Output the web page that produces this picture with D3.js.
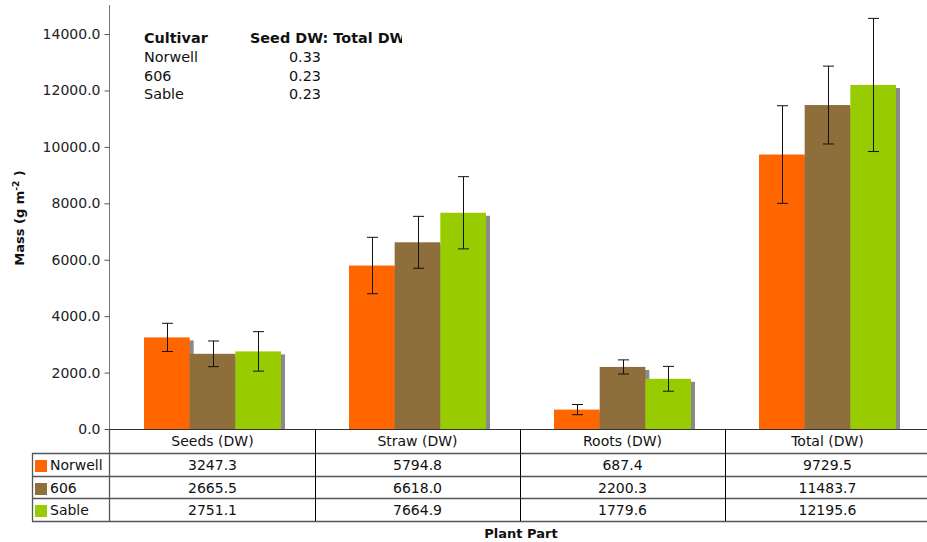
<!DOCTYPE html>
<html><head><meta charset="utf-8">
<script src="https://cdn.jsdelivr.net/npm/d3@7"></script>
<style>body{margin:0;background:#fff}svg{display:block;font-family:"DejaVu Sans",sans-serif}</style>
</head><body><svg id="c" width="927" height="542"></svg>
<script>
const categories = ["Seeds (DW)", "Straw (DW)", "Roots (DW)", "Total (DW)"];
const seriesNames = ["Norwell", "606", "Sable"];
const colors = ["#FF6600", "#8E6E3A", "#99CC00"];
const norwell = [3247.3, 5794.8, 687.4, 9729.5];
const c606 = [2665.5, 6618.0, 2200.3, 11483.7];
const sable = [2751.1, 7664.9, 1779.6, 12195.6];
const errNorwell = [500, 1000, 180, 1730];
const err606 = [455, 920, 250, 1380];
const errSable = [700, 1280, 440, 2360];
const yTicks = [0, 2000, 4000, 6000, 8000, 10000, 12000, 14000];
const ratioCultivars = ["Norwell", "606", "Sable"];
const ratioValues = ["0.33", "0.23", "0.23"];

(function () {
const values = [norwell, c606, sable];
const errs = [errNorwell, err606, errSable];

const svg = d3.select("#c");
const pLeft = 110, pRight = 930, pTop = 5, pBottom = 429;
const y = d3.scaleLinear().domain([0, 15030]).range([pBottom, pTop]);
const x0 = d3.scaleBand().domain(categories).range([pLeft, pRight]).padding(0);
const x1 = d3.scaleBand().domain(seriesNames).range([0, x0.bandwidth()]).paddingInner(0).paddingOuter(0.745);

// annotation
const ann = svg.append("g").style("font-size", "14.4px").attr("fill", "#111");
svg.append("clipPath").attr("id", "annclip").append("rect").attr("x", 0).attr("y", 0).attr("width", 402).attr("height", 120);
ann.append("text").attr("x", 144).attr("y", 43).attr("font-weight", "bold").text("Cultivar");
ann.append("text").attr("x", 250).attr("y", 43).attr("font-weight", "bold").attr("clip-path", "url(#annclip)").text("Seed DW: Total DW");
ratioCultivars.forEach((c, i) => {
  ann.append("text").attr("x", 144).attr("y", 62 + i * 18.5).text(c);
  ann.append("text").attr("x", 305).attr("y", 62 + i * 18.5).attr("text-anchor", "middle").text(ratioValues[i]);
});

// bars
const g = svg.append("g");
categories.forEach((cat, ci) => {
  seriesNames.forEach((s, si) => {
    const v = values[si][ci];
    const bx = x0(cat) + x1(s), bw = x1.bandwidth();
    g.append("rect").attr("x", bx + 4).attr("y", y(v) + 3).attr("width", bw).attr("height", pBottom - y(v) - 3).attr("fill", "#8a8a8a");
  });
  seriesNames.forEach((s, si) => {
    const v = values[si][ci];
    const bx = x0(cat) + x1(s), bw = x1.bandwidth();
    g.append("rect").attr("x", bx).attr("y", y(v)).attr("width", bw).attr("height", pBottom - y(v)).attr("fill", colors[si]);
  });
  seriesNames.forEach((s, si) => {
    const v = values[si][ci], e = errs[si][ci];
    const cx = Math.round(x0(cat) + x1(s) + x1.bandwidth() / 2) + 0.5;
    const t = y(v + e), b = y(v - e);
    const eg = g.append("g").attr("stroke", "#111").attr("stroke-width", 1);
    eg.append("line").attr("x1", cx).attr("x2", cx).attr("y1", t).attr("y2", b);
    eg.append("line").attr("x1", cx - 5.5).attr("x2", cx + 5.5).attr("y1", t).attr("y2", t);
    eg.append("line").attr("x1", cx - 5.5).attr("x2", cx + 5.5).attr("y1", b).attr("y2", b);
  });
});

// y axis
const yAxis = d3.axisLeft(y).tickValues(yTicks).tickFormat(d3.format(".1f")).tickSize(5).tickPadding(4);
const ya = svg.append("g").attr("transform", `translate(${pLeft - 0.5},0)`).call(yAxis);
ya.select(".domain").attr("stroke", "#777").attr("d", `M0,${pTop}V${pBottom}`);
ya.selectAll(".tick line").attr("stroke", "#555");
ya.selectAll(".tick text").style("font-size", "14px").style("font-family", "DejaVu Sans").attr("fill", "#222");

// y label
const yl = svg.append("text").attr("transform", "translate(24,218) rotate(-90)").attr("text-anchor", "middle")
  .style("font-size", "13px").attr("font-weight", "bold").attr("fill", "#111");
yl.append("tspan").text("Mass (g m");
yl.append("tspan").attr("dy", -5).style("font-size", "9px").text("-2");
yl.append("tspan").attr("dy", 5).text(" )");

// table
const rowsY = [429, 453, 476, 498, 521];
const tb = svg.append("g");
tb.append("line").attr("x1", pLeft).attr("x2", pRight).attr("y1", 429.5).attr("y2", 429.5).attr("stroke", "#333").attr("stroke-width", 1.2);
rowsY.slice(1).forEach(ry => {
  tb.append("line").attr("x1", 32).attr("x2", pRight).attr("y1", ry + 0.5).attr("y2", ry + 0.5).attr("stroke", "#555").attr("stroke-width", 1.3);
});
tb.append("line").attr("x1", 32.5).attr("x2", 32.5).attr("y1", 453).attr("y2", 521).attr("stroke", "#555").attr("stroke-width", 1.3);
tb.append("line").attr("x1", pLeft - 0.5).attr("x2", pLeft - 0.5).attr("y1", 429).attr("y2", 521).attr("stroke", "#555").attr("stroke-width", 1.3);
categories.forEach((cat, ci) => {
  if (ci > 0) tb.append("line").attr("x1", Math.round(x0(cat)) + 0.5).attr("x2", Math.round(x0(cat)) + 0.5).attr("y1", 429).attr("y2", 521).attr("stroke", "#000");
  tb.append("text").attr("x", x0(cat) + x0.bandwidth() / 2).attr("y", 446).attr("text-anchor", "middle").style("font-size", "14px").attr("fill", "#111").text(cat);
  seriesNames.forEach((s, si) => {
    tb.append("text").attr("x", x0(cat) + x0.bandwidth() / 2).attr("y", rowsY[si + 1] + 17).attr("text-anchor", "middle")
      .style("font-size", "14px").attr("fill", "#111").text(values[si][ci].toFixed(1));
  });
});
seriesNames.forEach((s, si) => {
  tb.append("rect").attr("x", 35).attr("y", rowsY[si + 1] + 7).attr("width", 12).attr("height", 12).attr("fill", colors[si]);
  tb.append("text").attr("x", 50).attr("y", rowsY[si + 1] + 17).style("font-size", "14px").attr("fill", "#111").text(s);
});
svg.append("text").attr("x", (pLeft + pRight) / 2 + 1).attr("y", 538).attr("text-anchor", "middle").style("font-size", "13px").attr("font-weight", "bold").attr("fill", "#111").text("Plant Part");
})();
</script></body></html>
